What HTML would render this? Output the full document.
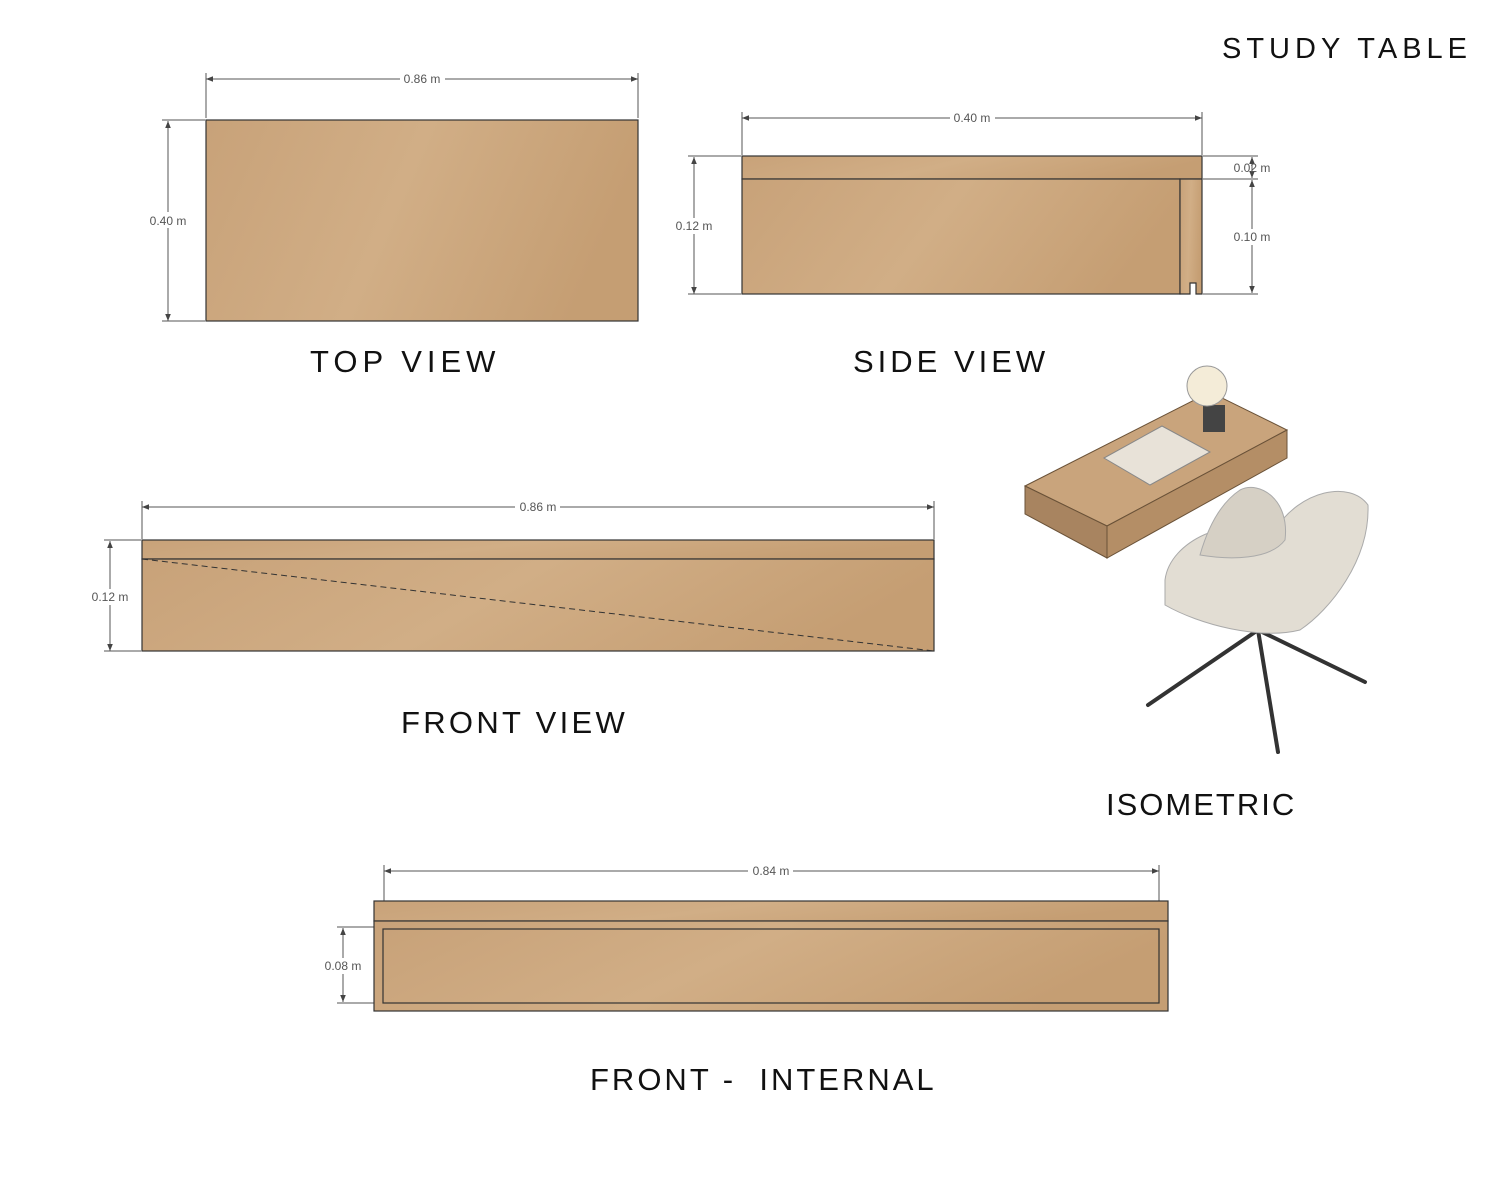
<!DOCTYPE html>
<html><head><style>
body{margin:0;width:1500px;height:1199px;background:#fff;position:relative;overflow:hidden;font-family:"Liberation Sans",sans-serif}
.t{position:absolute;font-size:31px;letter-spacing:1px;color:#111;white-space:nowrap}
.d{font-size:12px;fill:#555;font-family:"Liberation Sans",sans-serif}
</style></head><body>
<svg width="1500" height="1199" style="position:absolute;left:0;top:0">
<defs>
<linearGradient id="w" x1="0" y1="0" x2="1" y2="0.2">
<stop offset="0" stop-color="#c8a279"/><stop offset=".5" stop-color="#d1ae86"/><stop offset="1" stop-color="#c59e73"/>
</linearGradient>
<marker id="a" viewBox="0 0 10 10" refX="10" refY="5" markerWidth="7" markerHeight="7" orient="auto-start-reverse"><path d="M0 1L10 5L0 9z" fill="#444"/></marker>
</defs>
<g stroke="#555" stroke-width="1" fill="none">
<line x1="206" y1="79" x2="638" y2="79" marker-start="url(#a)" marker-end="url(#a)"/>
<line x1="206" y1="73" x2="206" y2="118"/><line x1="638" y1="73" x2="638" y2="118"/>
<line x1="168" y1="121" x2="168" y2="321" marker-start="url(#a)" marker-end="url(#a)"/>
<line x1="162" y1="120" x2="205" y2="120"/><line x1="162" y1="321" x2="205" y2="321"/>
<line x1="742" y1="118" x2="1202" y2="118" marker-start="url(#a)" marker-end="url(#a)"/>
<line x1="742" y1="112" x2="742" y2="155"/><line x1="1202" y1="112" x2="1202" y2="155"/>
<line x1="694" y1="157" x2="694" y2="294" marker-start="url(#a)" marker-end="url(#a)"/>
<line x1="688" y1="156" x2="741" y2="156"/><line x1="688" y1="294" x2="741" y2="294"/>
<line x1="1203" y1="156" x2="1258" y2="156"/><line x1="1203" y1="179" x2="1258" y2="179"/><line x1="1203" y1="294" x2="1258" y2="294"/>
<line x1="1252" y1="157" x2="1252" y2="178" marker-start="url(#a)" marker-end="url(#a)"/>
<line x1="1252" y1="180" x2="1252" y2="293" marker-start="url(#a)" marker-end="url(#a)"/>
<line x1="142" y1="507" x2="934" y2="507" marker-start="url(#a)" marker-end="url(#a)"/>
<line x1="142" y1="501" x2="142" y2="539"/><line x1="934" y1="501" x2="934" y2="539"/>
<line x1="110" y1="541" x2="110" y2="651" marker-start="url(#a)" marker-end="url(#a)"/>
<line x1="104" y1="540" x2="141" y2="540"/><line x1="104" y1="651" x2="141" y2="651"/>
<line x1="384" y1="871" x2="1159" y2="871" marker-start="url(#a)" marker-end="url(#a)"/>
<line x1="384" y1="865" x2="384" y2="925"/><line x1="1159" y1="865" x2="1159" y2="925"/>
<line x1="343" y1="928" x2="343" y2="1002" marker-start="url(#a)" marker-end="url(#a)"/>
<line x1="337" y1="927" x2="382" y2="927"/><line x1="337" y1="1003" x2="382" y2="1003"/>
</g>
<g class="d" text-anchor="middle">
<rect x="400" y="72" width="45" height="14" fill="#fff"/><text x="422" y="83">0.86 m</text>
<rect x="146" y="212" width="44" height="16" fill="#fff"/><text x="168" y="225">0.40 m</text>
<rect x="950" y="111" width="45" height="14" fill="#fff"/><text x="972" y="122">0.40 m</text>
<rect x="672" y="218" width="44" height="16" fill="#fff"/><text x="694" y="230">0.12 m</text>
<text x="1252" y="172">0.02 m</text>
<rect x="1230" y="229" width="44" height="16" fill="#fff"/><text x="1252" y="241">0.10 m</text>
<rect x="515" y="500" width="45" height="14" fill="#fff"/><text x="538" y="511">0.86 m</text>
<rect x="88" y="589" width="44" height="16" fill="#fff"/><text x="110" y="601">0.12 m</text>
<rect x="748" y="864" width="45" height="14" fill="#fff"/><text x="771" y="875">0.84 m</text>
<rect x="321" y="958" width="44" height="16" fill="#fff"/><text x="343" y="970">0.08 m</text>
</g>
<g stroke="#333" stroke-width="1.2" fill="url(#w)">
<rect x="206" y="120" width="432" height="201"/>
<rect x="742" y="156" width="460" height="23"/>
<rect x="742" y="179" width="438" height="115"/>
<path d="M1180 179H1202V294H1196V283H1190V294H1180Z"/>
<rect x="142" y="540" width="792" height="19"/>
<rect x="142" y="559" width="792" height="92"/>
<rect x="374" y="901" width="794" height="20"/>
<rect x="374" y="921" width="794" height="90"/>
<rect x="383" y="929" width="776" height="74"/>
</g>
<line x1="142" y1="559" x2="934" y2="651" stroke="#333" stroke-dasharray="6,4"/>
<g stroke="#6a5238" stroke-width="1">
<path d="M1025 486L1210 392L1287 430L1107 526Z" fill="#c9a47c"/>
<path d="M1025 486L1107 526L1107 558L1025 514Z" fill="#a88460"/>
<path d="M1107 526L1287 430L1287 458L1107 558Z" fill="#b48e66"/>
</g>
<path d="M1104 458L1162 426L1210 452L1150 485Z" fill="#e8e2d8" stroke="#888"/>
<path d="M1203 405L1225 405L1225 432L1203 432Z" fill="#444"/>
<circle cx="1207" cy="386" r="20" fill="#f4ecd8" stroke="#999"/>
<g stroke="#333" stroke-width="4" stroke-linecap="round">
<line x1="1258" y1="630" x2="1148" y2="705"/><line x1="1258" y1="630" x2="1278" y2="752"/>
<line x1="1258" y1="630" x2="1365" y2="682"/><line x1="1258" y1="630" x2="1230" y2="600"/>
</g>
<path d="M1165 580C1170 540 1230 515 1275 530C1300 490 1350 480 1368 505C1370 560 1330 610 1300 630C1260 640 1200 625 1165 605Z" fill="#e2ddd3" stroke="#aaa"/>
<path d="M1240 490C1260 480 1290 500 1285 540C1270 560 1230 560 1200 555C1210 520 1225 500 1240 490Z" fill="#d6d0c5" stroke="#aaa"/>
</svg>
<div class="t" style="left:1222px;top:33px;font-size:29px;letter-spacing:5px">STUDY TABLE</div>
<div class="t" style="left:310px;top:344px;letter-spacing:5px">TOP VIEW</div>
<div class="t" style="left:853px;top:344px;letter-spacing:4px">SIDE VIEW</div>
<div class="t" style="left:401px;top:705px;letter-spacing:3.3px">FRONT VIEW</div>
<div class="t" style="left:1106px;top:787px;letter-spacing:2px">ISOMETRIC</div>
<div class="t" style="left:590px;top:1062px;letter-spacing:3px">FRONT -&nbsp; INTERNAL</div>
</body></html>
